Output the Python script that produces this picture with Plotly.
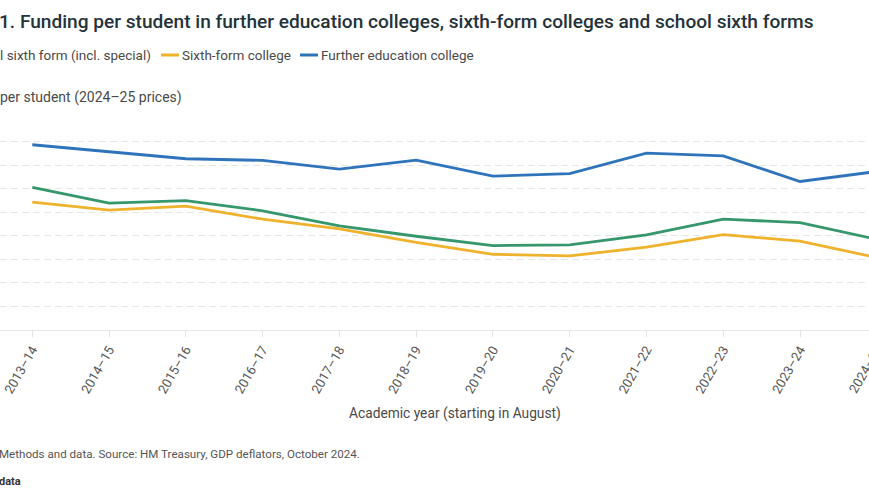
import plotly.graph_objects as go

# ---- data ----
years = ["2013–14", "2014–15", "2015–16", "2016–17", "2017–18", "2018–19",
         "2019–20", "2020–21", "2021–22", "2022–23", "2023–24", "2024–25"]
school_sixth_form = [6050, 5385, 5495, 5060, 4420, 3980, 3585, 3615, 4040, 4705, 4560, 3850]
sixth_form_college = [5425, 5090, 5255, 4705, 4295, 3725, 3215, 3145, 3515, 4050, 3770, 3075]
fe_college = [7865, 7555, 7270, 7200, 6830, 7215, 6535, 6635, 7510, 7395, 6305, 6730]
y_ticks = [0, 1000, 2000, 3000, 4000, 5000, 6000, 7000, 8000, 9000]

GREEN = "#36976c"
YELLOW = "#efb22c"
BLUE = "#2f74bb"

W, H = 869, 504
T, B = 118, 174
PH = H - T - B


def px_x(px):
    return px / W


def px_y(py):
    return (T + PH - py) / PH


fig = go.Figure()
for name, vals, col in [
    ("School sixth form (incl. special)", school_sixth_form, GREEN),
    ("Sixth-form college", sixth_form_college, YELLOW),
    ("Further education college", fe_college, BLUE),
]:
    fig.add_trace(go.Scatter(x=years, y=vals, name=name, mode="lines",
                             line=dict(color=col, width=2.8),
                             showlegend=False))

FONT = "Roboto"
TXT = "#4a4a4a"
annotations = [
    dict(text="1. Funding per student in further education colleges, sixth-form colleges and school sixth forms",
         x=px_x(-3), y=px_y(21), xanchor="left", yanchor="middle",
         font=dict(family=FONT, size=19.1, color="#24323a", weight=500)),
    dict(text="l sixth form (incl. special)", x=px_x(-2), y=px_y(55),
         xanchor="left", yanchor="middle", font=dict(family=FONT, size=13.5, color=TXT)),
    dict(text="Sixth-form college", x=px_x(180), y=px_y(55),
         xanchor="left", yanchor="middle", font=dict(family=FONT, size=13.5, color=TXT)),
    dict(text="Further education college", x=px_x(319), y=px_y(55),
         xanchor="left", yanchor="middle", font=dict(family=FONT, size=13.5, color=TXT)),
    dict(text="per student (2024–25 prices)", x=px_x(-2), y=px_y(97),
         xanchor="left", yanchor="middle", font=dict(family=FONT, size=14, color=TXT)),
    dict(text="Academic year (starting in August)", x=px_x(455), y=px_y(413),
         xanchor="center", yanchor="middle", font=dict(family=FONT, size=13.75, color=TXT)),
    dict(text="Methods and data. Source: HM Treasury, GDP deflators, October 2024.",
         x=px_x(-3), y=px_y(454), xanchor="left", yanchor="middle",
         font=dict(family=FONT, size=11.6, color="#555555")),
    dict(text="<b>data</b>", x=px_x(-3), y=px_y(481), xanchor="left", yanchor="middle",
         font=dict(family=FONT, size=11, color="#333333")),
    # last category label, which lies just beyond the visible axis range
    dict(text=years[-1], x=px_x(888), y=px_y(341), xanchor="right", yanchor="top",
         textangle=-60, font=dict(family=FONT, size=13, color="#555555")),
]
for a in annotations:
    a.update(xref="paper", yref="paper", showarrow=False)

shapes = [
    dict(type="line", xref="paper", yref="paper", x0=px_x(161), x1=px_x(179),
         y0=px_y(55), y1=px_y(55), line=dict(color=YELLOW, width=3)),
    dict(type="line", xref="paper", yref="paper", x0=px_x(300), x1=px_x(318),
         y0=px_y(55), y1=px_y(55), line=dict(color=BLUE, width=3)),
]

spacing = 76.77
x0 = -32.3 / spacing
x1 = x0 + W / spacing

fig.update_layout(
    width=W, height=H,
    margin=dict(l=0, r=0, t=T, b=B, autoexpand=False),
    paper_bgcolor="white", plot_bgcolor="white",
    font=dict(family=FONT, color="#555555"),
    annotations=annotations, shapes=shapes,
    showlegend=False,
    xaxis=dict(type="category", range=[x0, x1], automargin=False,
               tickangle=-60, tickfont=dict(size=13, color="#555555"),
               ticks="outside", ticklen=6, tickcolor="#e3e3e3",
               showline=True, linecolor="#e6e6e6", linewidth=1,
               showgrid=False, zeroline=False),
    yaxis=dict(range=[0, 9000], tickvals=y_ticks, showticklabels=False,
               automargin=False, showgrid=True, gridcolor="#e6e6e6",
               griddash="7px,4px", zeroline=False, ticks=""),
)

fig.write_html("out.html")
